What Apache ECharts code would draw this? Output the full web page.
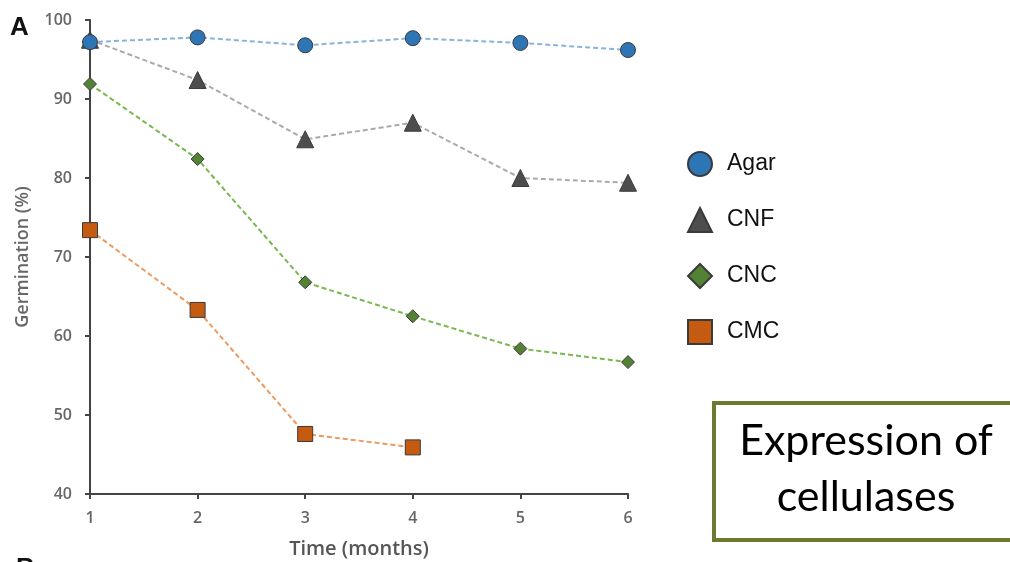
<!DOCTYPE html>
<html>
<head>
<meta charset="utf-8">
<script src="https://cdn.jsdelivr.net/npm/echarts@6/dist/echarts.min.js"></script>
<style>
  html, body { margin: 0; padding: 0; background: #fff; }
  #chart { width: 1010px; height: 562px; }
</style>
</head>
<body>
<div id="chart"></div>
<script>
var months = [1, 2, 3, 4, 5, 6];
var agar = [97.2, 97.8, 96.8, 97.7, 97.1, 96.2];
var cnf = [97.5, 92.4, 84.9, 87.0, 80.0, 79.4];
var cnc = [91.9, 82.4, 66.8, 62.5, 58.4, 56.7];
var cmc = [73.4, 63.3, 47.6, 45.9];
var yTicks = [40, 50, 60, 70, 80, 90, 100];

function pairs(vals) {
  return vals.map(function (v, i) { return [months[i], v]; });
}

function makeSeries(name, vals, symbol, size, fill, line) {
  return {
    name: name,
    type: 'line',
    data: pairs(vals),
    symbol: symbol,
    symbolSize: size,
    lineStyle: { color: line, width: 2, type: [5, 3] },
    itemStyle: { color: fill, borderColor: '#3a3a3a', borderWidth: 1 },
    z: 3
  };
}

var chart = echarts.init(document.getElementById('chart'));
chart.setOption({
  animation: false,
  grid: { left: 90, right: 382, top: 20, bottom: 68, outerBoundsMode: 'none', containLabel: false },
  xAxis: {
    type: 'value',
    min: 1, max: 6, interval: 1,
    name: 'Time (months)',
    nameLocation: 'middle',
    nameGap: 45,
    nameTextStyle: { color: '#555', fontSize: 20, fontFamily: 'Open Sans', fontWeight: 600 },
    axisLine: { lineStyle: { color: '#444', width: 2 } },
    axisTick: { length: 5, lineStyle: { color: '#444', width: 2 } },
    axisLabel: { color: '#666', fontSize: 16, fontFamily: 'Open Sans', fontWeight: 600, margin: 16 },
    splitLine: { show: false }
  },
  yAxis: {
    type: 'value',
    min: yTicks[0], max: yTicks[yTicks.length - 1], interval: 10,
    name: 'Germination (%)',
    nameLocation: 'middle',
    nameGap: 58,
    nameTextStyle: { color: '#666', fontSize: 18, fontFamily: 'Open Sans', fontWeight: 600 },
    axisLine: { show: true, lineStyle: { color: '#444', width: 2 } },
    axisTick: { show: true, length: 5, lineStyle: { color: '#444', width: 2 } },
    axisLabel: { color: '#666', fontSize: 16, fontFamily: 'Open Sans', fontWeight: 600, margin: 18 },
    splitLine: { show: false }
  },
  legend: {
    orient: 'vertical',
    left: 682,
    top: 146,
    itemWidth: 24,
    itemHeight: 24,
    itemGap: 30,
    textStyle: { color: '#111', fontSize: 23, fontFamily: 'Liberation Sans', padding: [0, 0, 0, 10] },
    data: [
      { name: 'Agar', icon: 'circle' },
      { name: 'CNF', icon: 'triangle' },
      { name: 'CNC', icon: 'diamond' },
      { name: 'CMC', icon: 'path://M3,3L21,3L21,21L3,21Z' }
    ]
  },
  series: [
    makeSeries('CMC', cmc, 'rect', 15, '#c55a11', '#ef9a5c'),
    makeSeries('CNC', cnc, 'diamond', 13, '#548235', '#78b84e'),
    makeSeries('CNF', cnf, 'triangle', 17, '#4d4d4d', '#aaaaaa'),
    makeSeries('Agar', agar, 'circle', 15, '#2e75b6', '#86b4e0')
  ],
  graphic: [
    { type: 'text', left: 10, top: 15, style: { text: 'A', font: 'bold 26px "Liberation Sans"', fill: '#111' } },
    { type: 'text', left: 16, top: 556, style: { text: 'B', font: 'bold 26px "Liberation Sans"', fill: '#111' } },
    {
      type: 'rect',
      shape: { x: 714, y: 403, width: 310, height: 137 },
      style: { fill: '#fff', stroke: '#6b7a2f', lineWidth: 4 }
    },
    {
      type: 'text', x: 866, y: 441,
      style: { text: 'Expression of', font: '43px Lato', fill: '#000', align: 'center', verticalAlign: 'middle' }
    },
    {
      type: 'text', x: 866, y: 497,
      style: { text: 'cellulases', font: '43px Lato', fill: '#000', align: 'center', verticalAlign: 'middle' }
    }
  ]
});
</script>
</body>
</html>
